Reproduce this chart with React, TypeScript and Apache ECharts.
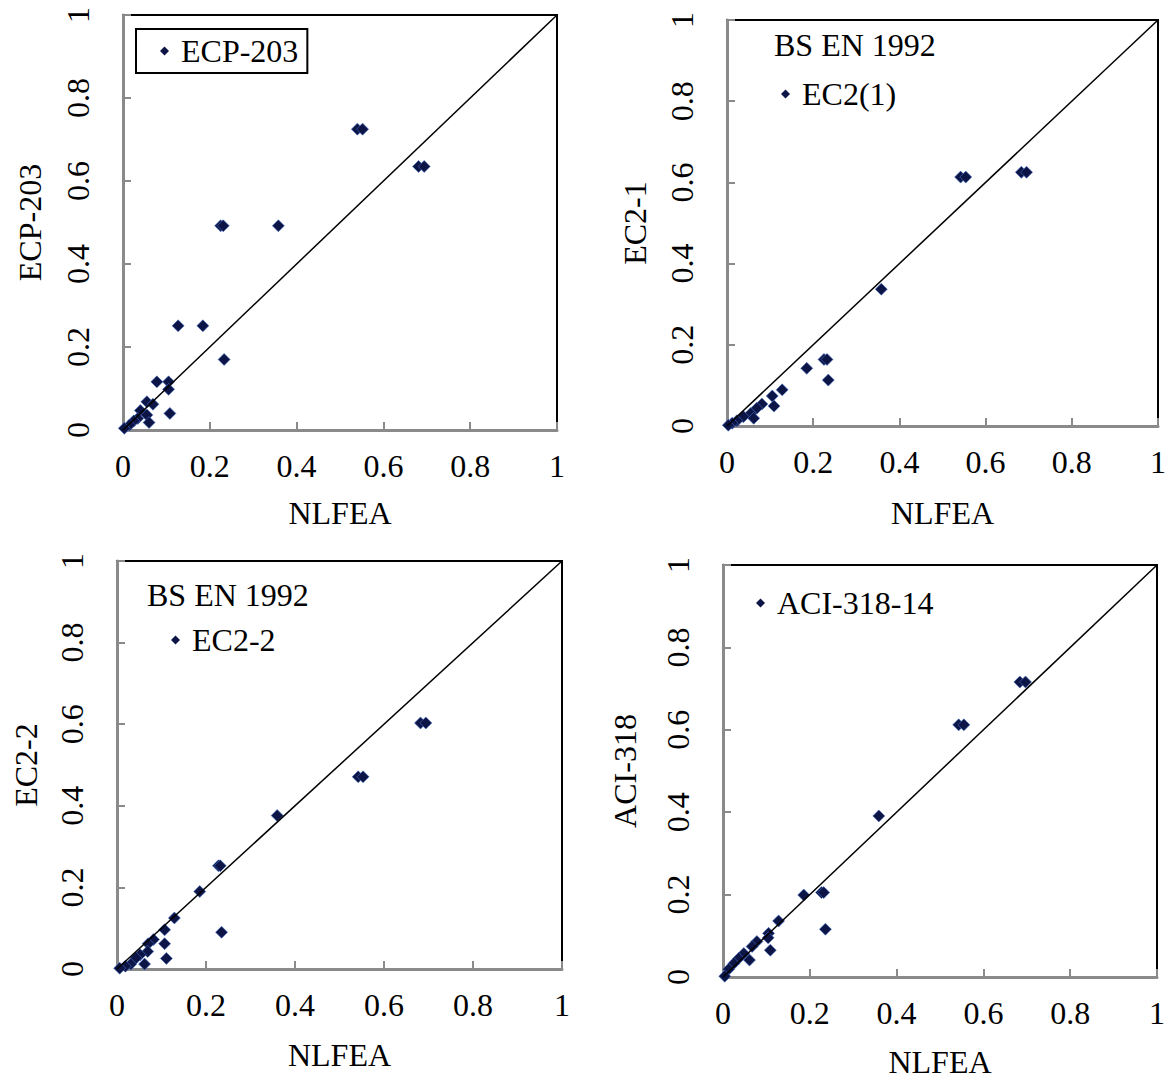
import React, { useEffect, useRef } from "react";
import * as echarts from "echarts";

// ---- data ----
const ecpX = [0.540, 0.552, 0.681, 0.694, 0.225, 0.231, 0.358, 0.127, 0.184, 0.233, 0.078, 0.105, 0.105, 0.108, 0.055, 0.069, 0.040, 0.055, 0.060, 0.034, 0.025, 0.015, 0.003];
const ecpY = [0.725, 0.725, 0.635, 0.635, 0.492, 0.492, 0.492, 0.251, 0.251, 0.170, 0.116, 0.116, 0.098, 0.040, 0.068, 0.062, 0.047, 0.036, 0.018, 0.028, 0.022, 0.012, 0.004];

const ec21X = [0.542, 0.554, 0.683, 0.695, 0.358, 0.225, 0.232, 0.235, 0.185, 0.128, 0.105, 0.109, 0.081, 0.069, 0.055, 0.062, 0.038, 0.023, 0.012, 0.003];
const ec21Y = [0.613, 0.613, 0.625, 0.625, 0.337, 0.164, 0.164, 0.113, 0.142, 0.089, 0.074, 0.049, 0.054, 0.044, 0.031, 0.019, 0.023, 0.013, 0.007, 0.002];

const ec22X = [0.682, 0.694, 0.542, 0.553, 0.360, 0.228, 0.232, 0.235, 0.186, 0.129, 0.107, 0.107, 0.111, 0.082, 0.070, 0.069, 0.062, 0.052, 0.043, 0.031, 0.019, 0.006];
const ec22Y = [0.603, 0.603, 0.471, 0.471, 0.376, 0.253, 0.253, 0.090, 0.190, 0.125, 0.096, 0.062, 0.026, 0.072, 0.062, 0.043, 0.012, 0.035, 0.027, 0.012, 0.007, 0.002];

const aciX = [0.684, 0.697, 0.543, 0.555, 0.359, 0.186, 0.227, 0.232, 0.236, 0.128, 0.105, 0.104, 0.109, 0.078, 0.067, 0.061, 0.048, 0.036, 0.025, 0.013, 0.004];
const aciY = [0.716, 0.716, 0.612, 0.612, 0.391, 0.199, 0.205, 0.205, 0.116, 0.136, 0.106, 0.095, 0.065, 0.086, 0.074, 0.041, 0.057, 0.045, 0.033, 0.019, 0.002];

const lineX = [0, 1];
const lineY = [0, 1];

const seriesNames = ["ECP-203", "EC2(1)", "EC2-2", "ACI-318-14"];
const yNames = ["ECP-203", "EC2-1", "EC2-2", "ACI-318"];
const xName = "NLFEA";
const subTitle = "BS EN 1992";

const FONT = "'Liberation Serif', 'Times New Roman', serif";

const grids = [
  { left: 123, top: 15, width: 434, height: 415, xGap: 67, yGap: 77 },
  { left: 727, top: 20, width: 433, height: 406, xGap: 71, yGap: 76 },
  { left: 117, top: 561, width: 445, height: 408, xGap: 70, yGap: 75 },
  { left: 723, top: 565, width: 434, height: 412, xGap: 69, yGap: 82 },
];

function zip(xs: number[], ys: number[]) {
  return xs.map((x, i) => [x, ys[i]]);
}

export default function App() {
  const ref = useRef<HTMLDivElement>(null);

  useEffect(() => {
    if (!ref.current) return;
    const chart = echarts.init(ref.current, null, { renderer: "svg" });
    const datasets = [zip(ecpX, ecpY), zip(ec21X, ec21Y), zip(ec22X, ec22Y), zip(aciX, aciY)];

    const axisCommon = {
      min: 0,
      max: 1,
      interval: 0.2,
      splitLine: { show: false },
      axisLine: { show: true, lineStyle: { color: "#8a8a8a", width: 3 } },
      axisTick: { show: true, inside: true, length: 8, lineStyle: { color: "#8a8a8a", width: 2 } },
      nameTextStyle: { fontFamily: FONT, fontSize: 32, color: "#000" },
    };

    const legendCommon = {
      padding: 0,
      itemWidth: 9,
      itemHeight: 9,
      icon: "diamond",
      itemStyle: { color: "#0c1545", borderWidth: 0, opacity: 1 },
      textStyle: { fontFamily: FONT, fontSize: 32, color: "#000", padding: [0, 0, 0, 7] },
    };

    const option: any = {
      animation: false,
      backgroundColor: "#fff",
      grid: grids.map((g) => ({
        left: g.left,
        top: g.top,
        width: g.width,
        height: g.height,
        show: true,
        borderColor: "#000",
        borderWidth: 2,
        backgroundColor: "transparent",
      })),
      xAxis: grids.map((g, i) => ({
        ...axisCommon,
        type: "value",
        gridIndex: i,
        name: xName,
        nameLocation: "middle",
        nameGap: g.xGap,
        axisLabel: { fontFamily: FONT, fontSize: 32, color: "#000", margin: 20 },
      })),
      yAxis: grids.map((g, i) => ({
        ...axisCommon,
        type: "value",
        gridIndex: i,
        name: yNames[i],
        nameLocation: "middle",
        nameGap: g.yGap,
        axisLabel: { fontFamily: FONT, fontSize: 32, color: "#000", margin: 29, rotate: 90 },
      })),
      legend: [
        {
          ...legendCommon,
          data: [seriesNames[0]],
          left: 136,
          top: 29,
          padding: [6, 9, 6, 24],
          borderColor: "#000",
          borderWidth: 2,
        },
        { ...legendCommon, data: [seriesNames[1]], left: 781, top: 78 },
        { ...legendCommon, data: [seriesNames[2]], left: 171, top: 624 },
        { ...legendCommon, data: [seriesNames[3]], left: 756, top: 587 },
      ],
      graphic: [
        { type: "text", left: 774, top: 29, style: { text: subTitle, font: `32px ${FONT}`, fill: "#000" } },
        { type: "text", left: 147, top: 579, style: { text: subTitle, font: `32px ${FONT}`, fill: "#000" } },
      ],
      series: [
        ...datasets.map((d, i) => ({
          type: "scatter",
          name: seriesNames[i],
          xAxisIndex: i,
          yAxisIndex: i,
          data: d,
          symbol: "diamond",
          symbolSize: 12,
          itemStyle: { color: "#0c1545", borderColor: "rgba(70,110,200,0.6)", borderWidth: 1, opacity: 1 },
          z: 3,
        })),
        ...grids.map((_, i) => ({
          type: "line",
          name: "diag" + i,
          xAxisIndex: i,
          yAxisIndex: i,
          data: zip(lineX, lineY),
          symbol: "none",
          lineStyle: { color: "#000", width: 1.5 },
          z: 4,
          silent: true,
        })),
      ],
    };

    chart.setOption(option);
    return () => chart.dispose();
  }, []);

  return (
    <div
      ref={ref}
      style={{ position: "absolute", left: 0, top: 0, width: 1169, height: 1084, background: "#fff" }}
    />
  );
}
